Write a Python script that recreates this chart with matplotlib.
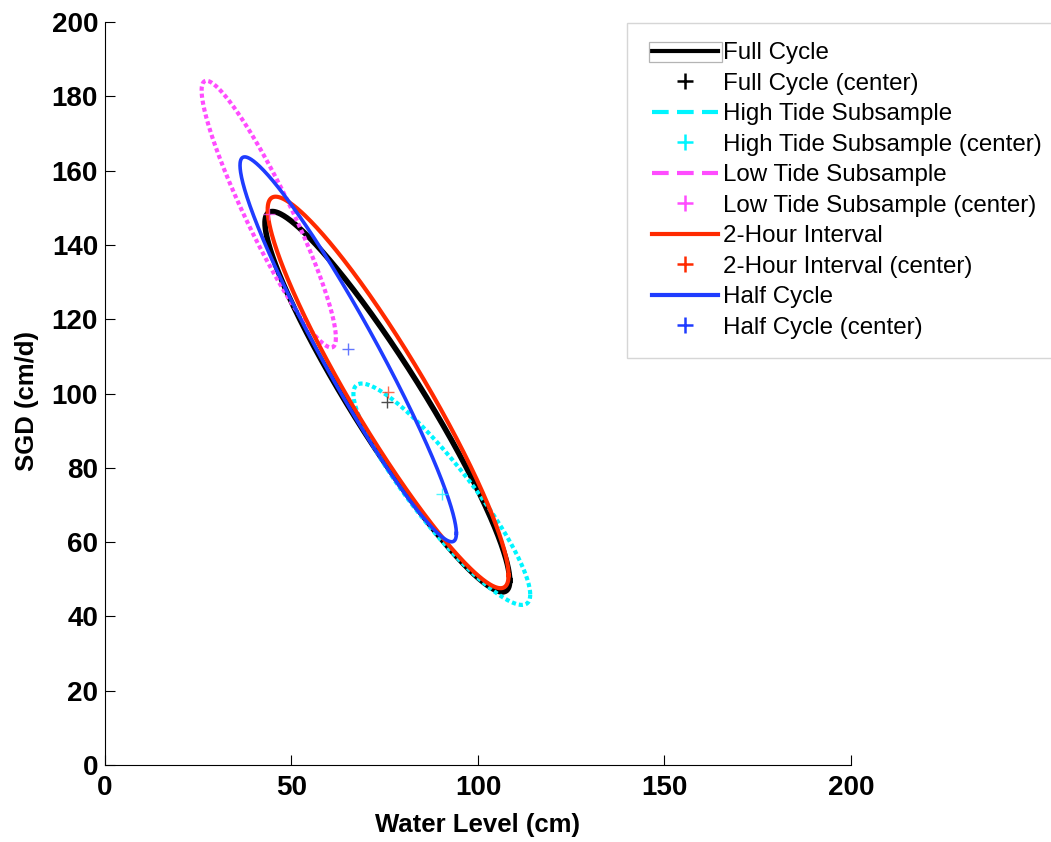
import numpy as np
import matplotlib.pyplot as plt
from matplotlib.lines import Line2D
from matplotlib.patches import Rectangle

plt.rcParams['font.family'] = ['Liberation Sans', 'DejaVu Sans']

# loop fits: water level vs SGD for each sampling scheme
names = ['Full Cycle', 'High Tide Subsample', 'Low Tide Subsample',
         '2-Hour Interval', 'Half Cycle']
level_mean = [75.7, 90.3, 43.9, 75.9, 65.2]   # cm
level_amp = [32.8, 23.7, 18.0, 32.3, 29.0]    # cm
sgd_mean = [97.8, 72.9, 148.3, 100.3, 111.9]  # cm/d
sgd_amp = [51.2, 29.8, 35.9, 52.7, 51.8]      # cm/d
phase_lag = [20, 25, 22, 21, 17]              # degrees

colors = ['#000000', '#00f5ff', '#ff4cff', '#ff2a00', '#1f3cff']
widths = [4.0, 3.0, 3.0, 3.0, 2.6]
styles = ['-', (0, (1, 0.7)), (0, (1, 0.7)), '-', '-']
leg_styles = ['-', (0, (4, 2)), (0, (4, 2)), '-', '-']

xticks = [0, 50, 100, 150, 200]
yticks = [0, 20, 40, 60, 80, 100, 120, 140, 160, 180, 200]

fig = plt.figure(figsize=(10.51, 8.42), dpi=100)
ax = fig.add_axes([0.0999, 0.0914, 0.7098, 0.8824])

t = np.linspace(0, 2 * np.pi, 500)
handles = []
for i in range(len(names)):
    lag = np.deg2rad(phase_lag[i])
    x = level_mean[i] + level_amp[i] * np.cos(t)
    y = sgd_mean[i] - sgd_amp[i] * np.cos(t - lag)
    ax.plot(x, y, color=colors[i], lw=widths[i], ls=styles[i], zorder=2 + i)
    ax.plot(level_mean[i], sgd_mean[i], marker='+', color=colors[i], ms=8,
            mew=1.0, alpha=0.7, ls='none', zorder=8)
    handles.append(Line2D([], [], color=colors[i], lw=3.0, ls=leg_styles[i]))
    handles.append(Line2D([], [], color=colors[i], marker='+', ms=11, mew=1.8, ls='none'))

labels = []
for n in names:
    labels += [n, n + ' (center)']

ax.set_xlim(0, 200)
ax.set_ylim(0, 200)
ax.set_xticks(xticks)
ax.set_yticks(yticks)
ax.spines['top'].set_visible(False)
ax.spines['right'].set_visible(False)
ax.tick_params(direction='in', length=7.5, width=0.8, pad=5)
ax.tick_params(axis='x', pad=7.5)
for lab in ax.get_xticklabels() + ax.get_yticklabels():
    lab.set_fontsize(20)
    lab.set_fontweight('bold')
ax.set_xlabel('Water Level (cm)', fontsize=18.5, fontweight='bold', labelpad=8)
ax.set_ylabel('SGD (cm/d)', fontsize=18.5, fontweight='bold')
ax.yaxis.set_label_coords(-0.088, 0.49)

W, H = 1051, 842
# legend box, running off the right edge
fig.patches.append(Rectangle((627 / W, 1 - 358 / H), 440 / W, 335 / H,
                             transform=fig.transFigure, facecolor='white',
                             edgecolor='#d6d6d6', lw=1.0, zorder=1))
fig.legend(handles, labels, loc='upper left', bbox_to_anchor=(652 / W, 1 - 42.5 / H),
           frameon=False, fontsize=17.4, handlelength=2.75, handletextpad=0.2,
           labelspacing=0.35, borderpad=0, borderaxespad=0)
fig.patches.append(Rectangle((649 / W, 1 - 62 / H), 73 / W, 20 / H,
                             transform=fig.transFigure, facecolor='none',
                             edgecolor='#b4b4b4', lw=0.9, zorder=6))

fig.savefig('out.png', dpi=100)
